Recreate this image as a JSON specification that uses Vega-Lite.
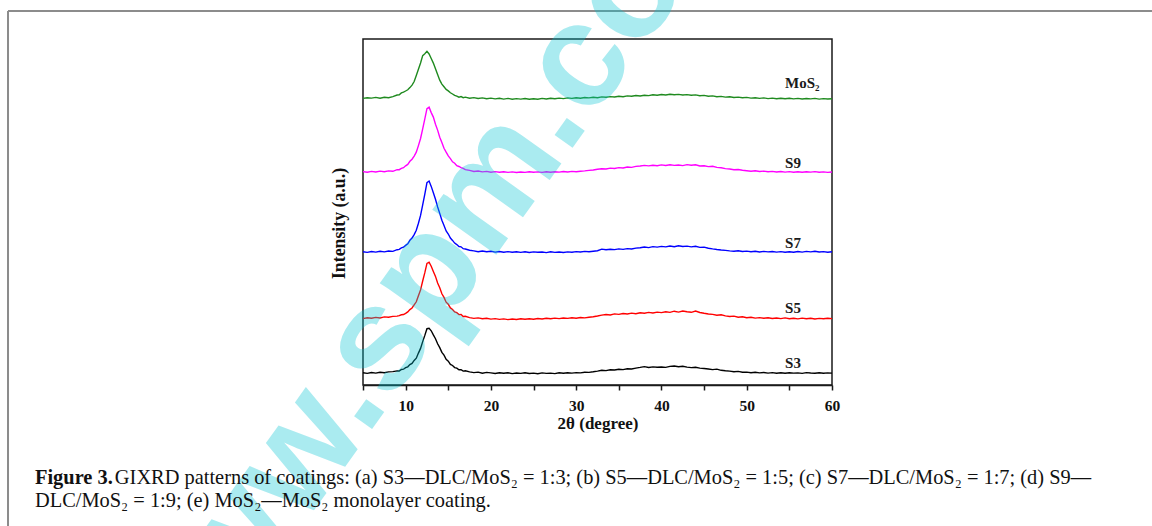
{
  "$schema": "https://vega.github.io/schema/vega-lite/v6.json",
  "width": 469,
  "height": 346,
  "autosize": {"type": "none"},
  "padding": {"left": 363, "top": 39, "right": 320, "bottom": 141},
  "background": "white",
  "title": {
    "text": "Figure 3.",
    "subtitle": ["\u200b\u00a0\u00a0\u00a0\u00a0\u00a0\u00a0\u00a0\u00a0\u00a0\u00a0\u00a0\u00a0\u00a0\u00a0\u00a0\u200a\u200aGIXRD patterns of coatings: (a) S3—DLC/MoS₂ = 1:3; (b) S5—DLC/MoS₂ = 1:5; (c) S7—DLC/MoS₂ = 1:7; (d) S9—", "DLC/MoS₂ = 1:9; (e) MoS₂—MoS₂ monolayer coating."],
    "orient": "bottom",
    "anchor": "start",
    "frame": "group",
    "dx": -328,
    "offset": -263,
    "baseline": "top",
    "font": "Liberation Serif",
    "fontSize": 20.4,
    "fontWeight": "bold",
    "color": "#111111",
    "subtitleFont": "Liberation Serif",
    "subtitleFontSize": 20.4,
    "subtitleFontWeight": "normal",
    "subtitleColor": "#111111",
    "subtitlePadding": -20.4,
    "subtitleLineHeight": 23
  },
  "config": {
    "view": {"stroke": "#1a1a1a", "strokeWidth": 1.5},
    "axis": {"grid": false}
  },
  "datasets": {
    "labels": [
      {"label": "MoS₂", "x": 54.5, "y": 296.7},
      {"label": "S9", "x": 54.5, "y": 216.7},
      {"label": "S7", "x": 54.5, "y": 136.7},
      {"label": "S5", "x": 54.5, "y": 71.7},
      {"label": "S3", "x": 54.5, "y": 16.7}
    ],
    "watermark": [
      {"t": "www.spm.com.cn"}
    ],
    "xrd": [
      {"s":"S3","x":5,"y":12.2},{"s":"S3","x":5.5,"y":11.6},{"s":"S3","x":6,"y":12.5},{"s":"S3","x":6.5,"y":11.9},{"s":"S3","x":7,"y":12.8},{"s":"S3","x":7.5,"y":12.3},{"s":"S3","x":8,"y":13.1},{"s":"S3","x":8.5,"y":13.4},
      {"s":"S3","x":9,"y":14.1},{"s":"S3","x":9.25,"y":14.0},{"s":"S3","x":9.5,"y":15.5},{"s":"S3","x":9.75,"y":15.8},{"s":"S3","x":10,"y":17.3},{"s":"S3","x":10.25,"y":18.2},{"s":"S3","x":10.5,"y":20.4},{"s":"S3","x":10.75,"y":21.6},{"s":"S3","x":11,"y":24.6},{"s":"S3","x":11.25,"y":26.8},{"s":"S3","x":11.5,"y":31.9},{"s":"S3","x":11.75,"y":36.6},{"s":"S3","x":12,"y":43.4},{"s":"S3","x":12.25,"y":49.6},{"s":"S3","x":12.5,"y":56.3},{"s":"S3","x":12.75,"y":56.7},{"s":"S3","x":13,"y":54.2},{"s":"S3","x":13.25,"y":50.1},{"s":"S3","x":13.5,"y":46.3},{"s":"S3","x":13.75,"y":41.2},{"s":"S3","x":14,"y":37.4},{"s":"S3","x":14.25,"y":32.6},{"s":"S3","x":14.5,"y":29.8},{"s":"S3","x":14.75,"y":25.7},{"s":"S3","x":15,"y":23.9},{"s":"S3","x":15.25,"y":20.6},{"s":"S3","x":15.5,"y":19.5},{"s":"S3","x":15.75,"y":17.4},{"s":"S3","x":16,"y":16.9},{"s":"S3","x":16.25,"y":15.2},{"s":"S3","x":16.5,"y":15.4},{"s":"S3","x":16.75,"y":13.9},{"s":"S3","x":17,"y":14.2},
      {"s":"S3","x":17.5,"y":13.1},{"s":"S3","x":18,"y":12.4},{"s":"S3","x":18.5,"y":12.9},{"s":"S3","x":19,"y":11.8},{"s":"S3","x":19.5,"y":12.6},{"s":"S3","x":20,"y":12.1},{"s":"S3","x":20.5,"y":11.5},{"s":"S3","x":21,"y":12.3},{"s":"S3","x":21.5,"y":11.7},{"s":"S3","x":22,"y":12.2},{"s":"S3","x":22.5,"y":11.4},{"s":"S3","x":23,"y":12.0},{"s":"S3","x":23.5,"y":11.6},{"s":"S3","x":24,"y":12.3},{"s":"S3","x":24.5,"y":11.5},{"s":"S3","x":25,"y":11.9},{"s":"S3","x":25.5,"y":11.3},{"s":"S3","x":26,"y":12.1},{"s":"S3","x":26.5,"y":11.6},{"s":"S3","x":27,"y":11.9},{"s":"S3","x":27.5,"y":11.4},{"s":"S3","x":28,"y":12.2},{"s":"S3","x":28.5,"y":11.8},{"s":"S3","x":29,"y":12.3},{"s":"S3","x":29.5,"y":11.9},{"s":"S3","x":30,"y":12.4},{"s":"S3","x":30.5,"y":12.1},{"s":"S3","x":31,"y":12.8},{"s":"S3","x":31.5,"y":12.6},{"s":"S3","x":32,"y":13.2},{"s":"S3","x":32.5,"y":13.9},{"s":"S3","x":33,"y":14.8},{"s":"S3","x":33.5,"y":14.4},{"s":"S3","x":34,"y":15.3},{"s":"S3","x":34.5,"y":15.0},{"s":"S3","x":35,"y":15.8},{"s":"S3","x":35.5,"y":15.4},{"s":"S3","x":36,"y":16.3},{"s":"S3","x":36.5,"y":16.0},{"s":"S3","x":37,"y":16.9},{"s":"S3","x":37.5,"y":17.6},{"s":"S3","x":38,"y":18.4},{"s":"S3","x":38.5,"y":17.5},{"s":"S3","x":39,"y":18.1},{"s":"S3","x":39.5,"y":17.7},{"s":"S3","x":40,"y":18.0},{"s":"S3","x":40.5,"y":17.6},{"s":"S3","x":41,"y":18.6},{"s":"S3","x":41.5,"y":19.0},{"s":"S3","x":42,"y":18.3},{"s":"S3","x":42.5,"y":18.7},{"s":"S3","x":43,"y":17.9},{"s":"S3","x":43.5,"y":17.4},{"s":"S3","x":44,"y":17.8},{"s":"S3","x":44.5,"y":16.9},{"s":"S3","x":45,"y":16.5},{"s":"S3","x":45.5,"y":16.0},{"s":"S3","x":46,"y":15.4},{"s":"S3","x":46.5,"y":15.9},{"s":"S3","x":47,"y":14.7},{"s":"S3","x":47.5,"y":14.2},{"s":"S3","x":48,"y":13.9},{"s":"S3","x":48.5,"y":13.2},{"s":"S3","x":49,"y":13.6},{"s":"S3","x":49.5,"y":12.8},{"s":"S3","x":50,"y":12.9},{"s":"S3","x":50.5,"y":12.3},{"s":"S3","x":51,"y":12.7},{"s":"S3","x":51.5,"y":12.1},{"s":"S3","x":52,"y":12.5},{"s":"S3","x":52.5,"y":11.9},{"s":"S3","x":53,"y":12.4},{"s":"S3","x":53.5,"y":11.8},{"s":"S3","x":54,"y":12.2},{"s":"S3","x":54.5,"y":11.7},{"s":"S3","x":55,"y":12.3},{"s":"S3","x":55.5,"y":11.9},{"s":"S3","x":56,"y":12.1},{"s":"S3","x":56.5,"y":11.6},{"s":"S3","x":57,"y":12.4},{"s":"S3","x":57.5,"y":12.0},{"s":"S3","x":58,"y":11.7},{"s":"S3","x":58.5,"y":12.3},{"s":"S3","x":59,"y":11.8},{"s":"S3","x":59.5,"y":12.1},{"s":"S3","x":60,"y":11.9},

      {"s":"S5","x":5,"y":66.4},{"s":"S5","x":5.5,"y":67.3},{"s":"S5","x":6,"y":66.8},{"s":"S5","x":6.5,"y":67.6},{"s":"S5","x":7,"y":67.0},{"s":"S5","x":7.5,"y":68.1},{"s":"S5","x":8,"y":67.7},{"s":"S5","x":8.5,"y":68.6},
      {"s":"S5","x":9,"y":68.9},{"s":"S5","x":9.25,"y":69.4},{"s":"S5","x":9.5,"y":70.2},{"s":"S5","x":9.75,"y":70.5},{"s":"S5","x":10,"y":71.6},{"s":"S5","x":10.25,"y":73.1},{"s":"S5","x":10.5,"y":75.4},{"s":"S5","x":10.75,"y":77.0},{"s":"S5","x":11,"y":80.1},{"s":"S5","x":11.25,"y":83.2},{"s":"S5","x":11.5,"y":89.3},{"s":"S5","x":11.75,"y":95.1},{"s":"S5","x":12,"y":104.0},{"s":"S5","x":12.25,"y":112.3},{"s":"S5","x":12.5,"y":121.6},{"s":"S5","x":12.75,"y":122.8},{"s":"S5","x":13,"y":118.7},{"s":"S5","x":13.25,"y":113.5},{"s":"S5","x":13.5,"y":108.6},{"s":"S5","x":13.75,"y":102.0},{"s":"S5","x":14,"y":97.3},{"s":"S5","x":14.25,"y":91.2},{"s":"S5","x":14.5,"y":87.6},{"s":"S5","x":14.75,"y":82.8},{"s":"S5","x":15,"y":80.7},{"s":"S5","x":15.25,"y":77.1},{"s":"S5","x":15.5,"y":75.5},{"s":"S5","x":15.75,"y":73.0},{"s":"S5","x":16,"y":72.3},{"s":"S5","x":16.25,"y":70.4},{"s":"S5","x":16.5,"y":70.6},{"s":"S5","x":16.75,"y":68.5},{"s":"S5","x":17,"y":68.7},
      {"s":"S5","x":17.5,"y":67.4},{"s":"S5","x":18,"y":66.6},{"s":"S5","x":18.5,"y":67.1},{"s":"S5","x":19,"y":66.2},{"s":"S5","x":19.5,"y":66.8},{"s":"S5","x":20,"y":65.9},{"s":"S5","x":20.5,"y":66.4},{"s":"S5","x":21,"y":65.6},{"s":"S5","x":21.5,"y":66.1},{"s":"S5","x":22,"y":65.4},{"s":"S5","x":22.5,"y":66.0},{"s":"S5","x":23,"y":65.5},{"s":"S5","x":23.5,"y":66.2},{"s":"S5","x":24,"y":65.7},{"s":"S5","x":24.5,"y":66.3},{"s":"S5","x":25,"y":65.8},{"s":"S5","x":25.5,"y":66.5},{"s":"S5","x":26,"y":66.0},{"s":"S5","x":26.5,"y":66.7},{"s":"S5","x":27,"y":66.2},{"s":"S5","x":27.5,"y":66.9},{"s":"S5","x":28,"y":66.4},{"s":"S5","x":28.5,"y":67.0},{"s":"S5","x":29,"y":66.6},{"s":"S5","x":29.5,"y":67.2},{"s":"S5","x":30,"y":66.8},{"s":"S5","x":30.5,"y":67.5},{"s":"S5","x":31,"y":67.1},{"s":"S5","x":31.5,"y":67.8},{"s":"S5","x":32,"y":68.2},{"s":"S5","x":32.5,"y":69.0},{"s":"S5","x":33,"y":69.9},{"s":"S5","x":33.5,"y":70.5},{"s":"S5","x":34,"y":70.0},{"s":"S5","x":34.5,"y":71.1},{"s":"S5","x":35,"y":70.6},{"s":"S5","x":35.5,"y":71.5},{"s":"S5","x":36,"y":71.0},{"s":"S5","x":36.5,"y":71.9},{"s":"S5","x":37,"y":71.3},{"s":"S5","x":37.5,"y":72.2},{"s":"S5","x":38,"y":71.8},{"s":"S5","x":38.5,"y":72.6},{"s":"S5","x":39,"y":72.0},{"s":"S5","x":39.5,"y":72.9},{"s":"S5","x":40,"y":72.4},{"s":"S5","x":40.5,"y":73.3},{"s":"S5","x":41,"y":72.6},{"s":"S5","x":41.5,"y":73.8},{"s":"S5","x":42,"y":72.9},{"s":"S5","x":42.5,"y":74.0},{"s":"S5","x":43,"y":73.2},{"s":"S5","x":43.5,"y":72.7},{"s":"S5","x":44,"y":73.9},{"s":"S5","x":44.5,"y":72.5},{"s":"S5","x":45,"y":71.7},{"s":"S5","x":45.5,"y":71.0},{"s":"S5","x":46,"y":70.6},{"s":"S5","x":46.5,"y":69.8},{"s":"S5","x":47,"y":70.2},{"s":"S5","x":47.5,"y":69.1},{"s":"S5","x":48,"y":68.5},{"s":"S5","x":48.5,"y":68.9},{"s":"S5","x":49,"y":67.8},{"s":"S5","x":49.5,"y":68.2},{"s":"S5","x":50,"y":67.3},{"s":"S5","x":50.5,"y":67.7},{"s":"S5","x":51,"y":66.9},{"s":"S5","x":51.5,"y":67.4},{"s":"S5","x":52,"y":66.7},{"s":"S5","x":52.5,"y":67.2},{"s":"S5","x":53,"y":66.5},{"s":"S5","x":53.5,"y":67.0},{"s":"S5","x":54,"y":66.4},{"s":"S5","x":54.5,"y":67.1},{"s":"S5","x":55,"y":66.3},{"s":"S5","x":55.5,"y":66.8},{"s":"S5","x":56,"y":66.1},{"s":"S5","x":56.5,"y":66.9},{"s":"S5","x":57,"y":66.3},{"s":"S5","x":57.5,"y":66.7},{"s":"S5","x":58,"y":66.0},{"s":"S5","x":58.5,"y":66.6},{"s":"S5","x":59,"y":66.2},{"s":"S5","x":59.5,"y":66.8},{"s":"S5","x":60,"y":66.4},

      {"s":"S7","x":5,"y":133.2},{"s":"S7","x":5.5,"y":132.6},{"s":"S7","x":6,"y":133.5},{"s":"S7","x":6.5,"y":132.9},{"s":"S7","x":7,"y":133.8},{"s":"S7","x":7.5,"y":133.1},{"s":"S7","x":8,"y":134.0},{"s":"S7","x":8.5,"y":133.6},
      {"s":"S7","x":9,"y":135.3},{"s":"S7","x":9.25,"y":135.6},{"s":"S7","x":9.5,"y":137.1},{"s":"S7","x":9.75,"y":137.8},{"s":"S7","x":10,"y":139.6},{"s":"S7","x":10.25,"y":141.2},{"s":"S7","x":10.5,"y":144.7},{"s":"S7","x":10.75,"y":146.9},{"s":"S7","x":11,"y":150.4},{"s":"S7","x":11.25,"y":154.8},{"s":"S7","x":11.5,"y":161.7},{"s":"S7","x":11.75,"y":169.6},{"s":"S7","x":12,"y":180.2},{"s":"S7","x":12.25,"y":190.9},{"s":"S7","x":12.5,"y":202.4},{"s":"S7","x":12.75,"y":204.0},{"s":"S7","x":13,"y":198.6},{"s":"S7","x":13.25,"y":192.3},{"s":"S7","x":13.5,"y":185.8},{"s":"S7","x":13.75,"y":178.1},{"s":"S7","x":14,"y":171.6},{"s":"S7","x":14.25,"y":164.8},{"s":"S7","x":14.5,"y":159.5},{"s":"S7","x":14.75,"y":154.1},{"s":"S7","x":15,"y":151.0},{"s":"S7","x":15.25,"y":146.9},{"s":"S7","x":15.5,"y":144.6},{"s":"S7","x":15.75,"y":141.9},{"s":"S7","x":16,"y":140.4},{"s":"S7","x":16.25,"y":138.5},{"s":"S7","x":16.5,"y":138.2},{"s":"S7","x":16.75,"y":136.3},{"s":"S7","x":17,"y":136.0},
      {"s":"S7","x":17.5,"y":134.8},{"s":"S7","x":18,"y":134.1},{"s":"S7","x":18.5,"y":133.3},{"s":"S7","x":19,"y":134.0},{"s":"S7","x":19.5,"y":133.2},{"s":"S7","x":20,"y":133.7},{"s":"S7","x":20.5,"y":132.9},{"s":"S7","x":21,"y":133.5},{"s":"S7","x":21.5,"y":132.7},{"s":"S7","x":22,"y":133.4},{"s":"S7","x":22.5,"y":132.8},{"s":"S7","x":23,"y":133.3},{"s":"S7","x":23.5,"y":132.6},{"s":"S7","x":24,"y":133.2},{"s":"S7","x":24.5,"y":132.5},{"s":"S7","x":25,"y":133.1},{"s":"S7","x":25.5,"y":132.7},{"s":"S7","x":26,"y":133.0},{"s":"S7","x":26.5,"y":132.4},{"s":"S7","x":27,"y":133.2},{"s":"S7","x":27.5,"y":132.6},{"s":"S7","x":28,"y":133.0},{"s":"S7","x":28.5,"y":132.5},{"s":"S7","x":29,"y":133.1},{"s":"S7","x":29.5,"y":132.8},{"s":"S7","x":30,"y":133.4},{"s":"S7","x":30.5,"y":133.0},{"s":"S7","x":31,"y":133.6},{"s":"S7","x":31.5,"y":133.2},{"s":"S7","x":32,"y":133.8},{"s":"S7","x":32.5,"y":134.3},{"s":"S7","x":33,"y":135.9},{"s":"S7","x":33.5,"y":135.2},{"s":"S7","x":34,"y":135.8},{"s":"S7","x":34.5,"y":135.4},{"s":"S7","x":35,"y":136.1},{"s":"S7","x":35.5,"y":135.6},{"s":"S7","x":36,"y":136.4},{"s":"S7","x":36.5,"y":136.0},{"s":"S7","x":37,"y":136.9},{"s":"S7","x":37.5,"y":137.3},{"s":"S7","x":38,"y":138.0},{"s":"S7","x":38.5,"y":137.4},{"s":"S7","x":39,"y":138.4},{"s":"S7","x":39.5,"y":137.9},{"s":"S7","x":40,"y":138.6},{"s":"S7","x":40.5,"y":138.1},{"s":"S7","x":41,"y":139.0},{"s":"S7","x":41.5,"y":138.3},{"s":"S7","x":42,"y":139.2},{"s":"S7","x":42.5,"y":138.5},{"s":"S7","x":43,"y":138.9},{"s":"S7","x":43.5,"y":138.1},{"s":"S7","x":44,"y":138.7},{"s":"S7","x":44.5,"y":137.6},{"s":"S7","x":45,"y":137.9},{"s":"S7","x":45.5,"y":136.8},{"s":"S7","x":46,"y":136.1},{"s":"S7","x":46.5,"y":135.5},{"s":"S7","x":47,"y":135.0},{"s":"S7","x":47.5,"y":134.6},{"s":"S7","x":48,"y":134.1},{"s":"S7","x":48.5,"y":133.8},{"s":"S7","x":49,"y":134.2},{"s":"S7","x":49.5,"y":133.5},{"s":"S7","x":50,"y":133.9},{"s":"S7","x":50.5,"y":133.2},{"s":"S7","x":51,"y":133.7},{"s":"S7","x":51.5,"y":133.0},{"s":"S7","x":52,"y":133.6},{"s":"S7","x":52.5,"y":133.1},{"s":"S7","x":53,"y":133.5},{"s":"S7","x":53.5,"y":132.9},{"s":"S7","x":54,"y":133.4},{"s":"S7","x":54.5,"y":132.8},{"s":"S7","x":55,"y":133.3},{"s":"S7","x":55.5,"y":132.7},{"s":"S7","x":56,"y":133.5},{"s":"S7","x":56.5,"y":132.9},{"s":"S7","x":57,"y":133.6},{"s":"S7","x":57.5,"y":133.1},{"s":"S7","x":58,"y":133.7},{"s":"S7","x":58.5,"y":133.0},{"s":"S7","x":59,"y":133.4},{"s":"S7","x":59.5,"y":132.8},{"s":"S7","x":60,"y":133.3},

      {"s":"S9","x":5,"y":213.4},{"s":"S9","x":5.5,"y":212.8},{"s":"S9","x":6,"y":213.6},{"s":"S9","x":6.5,"y":213.0},{"s":"S9","x":7,"y":213.9},{"s":"S9","x":7.5,"y":213.2},{"s":"S9","x":8,"y":214.1},{"s":"S9","x":8.5,"y":213.7},
      {"s":"S9","x":9,"y":215.4},{"s":"S9","x":9.25,"y":215.3},{"s":"S9","x":9.5,"y":216.6},{"s":"S9","x":9.75,"y":217.3},{"s":"S9","x":10,"y":219.2},{"s":"S9","x":10.25,"y":220.6},{"s":"S9","x":10.5,"y":223.7},{"s":"S9","x":10.75,"y":225.8},{"s":"S9","x":11,"y":228.9},{"s":"S9","x":11.25,"y":232.9},{"s":"S9","x":11.5,"y":239.4},{"s":"S9","x":11.75,"y":246.5},{"s":"S9","x":12,"y":256.2},{"s":"S9","x":12.25,"y":266.1},{"s":"S9","x":12.5,"y":276.3},{"s":"S9","x":12.75,"y":277.8},{"s":"S9","x":13,"y":272.4},{"s":"S9","x":13.25,"y":267.9},{"s":"S9","x":13.5,"y":260.8},{"s":"S9","x":13.75,"y":254.9},{"s":"S9","x":14,"y":247.8},{"s":"S9","x":14.25,"y":242.6},{"s":"S9","x":14.5,"y":236.7},{"s":"S9","x":14.75,"y":232.8},{"s":"S9","x":15,"y":229.1},{"s":"S9","x":15.25,"y":226.4},{"s":"S9","x":15.5,"y":223.2},{"s":"S9","x":15.75,"y":221.8},{"s":"S9","x":16,"y":219.3},{"s":"S9","x":16.25,"y":218.5},{"s":"S9","x":16.5,"y":217.4},{"s":"S9","x":16.75,"y":216.6},{"s":"S9","x":17,"y":215.4},
      {"s":"S9","x":17.5,"y":214.6},{"s":"S9","x":18,"y":213.5},{"s":"S9","x":18.5,"y":214.0},{"s":"S9","x":19,"y":213.1},{"s":"S9","x":19.5,"y":213.6},{"s":"S9","x":20,"y":212.8},{"s":"S9","x":20.5,"y":213.4},{"s":"S9","x":21,"y":212.7},{"s":"S9","x":21.5,"y":213.2},{"s":"S9","x":22,"y":212.6},{"s":"S9","x":22.5,"y":213.1},{"s":"S9","x":23,"y":212.5},{"s":"S9","x":23.5,"y":213.0},{"s":"S9","x":24,"y":212.6},{"s":"S9","x":24.5,"y":213.3},{"s":"S9","x":25,"y":212.8},{"s":"S9","x":25.5,"y":213.1},{"s":"S9","x":26,"y":212.6},{"s":"S9","x":26.5,"y":213.2},{"s":"S9","x":27,"y":212.7},{"s":"S9","x":27.5,"y":213.3},{"s":"S9","x":28,"y":212.9},{"s":"S9","x":28.5,"y":213.5},{"s":"S9","x":29,"y":213.0},{"s":"S9","x":29.5,"y":213.6},{"s":"S9","x":30,"y":213.2},{"s":"S9","x":30.5,"y":213.8},{"s":"S9","x":31,"y":214.1},{"s":"S9","x":31.5,"y":214.6},{"s":"S9","x":32,"y":215.0},{"s":"S9","x":32.5,"y":215.8},{"s":"S9","x":33,"y":216.3},{"s":"S9","x":33.5,"y":216.0},{"s":"S9","x":34,"y":216.9},{"s":"S9","x":34.5,"y":216.5},{"s":"S9","x":35,"y":217.4},{"s":"S9","x":35.5,"y":217.0},{"s":"S9","x":36,"y":218.0},{"s":"S9","x":36.5,"y":217.6},{"s":"S9","x":37,"y":218.6},{"s":"S9","x":37.5,"y":219.0},{"s":"S9","x":38,"y":219.6},{"s":"S9","x":38.5,"y":219.1},{"s":"S9","x":39,"y":219.8},{"s":"S9","x":39.5,"y":219.3},{"s":"S9","x":40,"y":220.1},{"s":"S9","x":40.5,"y":219.5},{"s":"S9","x":41,"y":220.3},{"s":"S9","x":41.5,"y":219.6},{"s":"S9","x":42,"y":220.0},{"s":"S9","x":42.5,"y":219.4},{"s":"S9","x":43,"y":220.4},{"s":"S9","x":43.5,"y":219.7},{"s":"S9","x":44,"y":220.2},{"s":"S9","x":44.5,"y":219.0},{"s":"S9","x":45,"y":219.3},{"s":"S9","x":45.5,"y":218.4},{"s":"S9","x":46,"y":218.7},{"s":"S9","x":46.5,"y":217.6},{"s":"S9","x":47,"y":217.2},{"s":"S9","x":47.5,"y":216.4},{"s":"S9","x":48,"y":216.0},{"s":"S9","x":48.5,"y":215.2},{"s":"S9","x":49,"y":215.5},{"s":"S9","x":49.5,"y":214.7},{"s":"S9","x":50,"y":214.3},{"s":"S9","x":50.5,"y":213.8},{"s":"S9","x":51,"y":214.2},{"s":"S9","x":51.5,"y":213.5},{"s":"S9","x":52,"y":213.9},{"s":"S9","x":52.5,"y":213.2},{"s":"S9","x":53,"y":213.6},{"s":"S9","x":53.5,"y":213.0},{"s":"S9","x":54,"y":213.5},{"s":"S9","x":54.5,"y":212.9},{"s":"S9","x":55,"y":213.4},{"s":"S9","x":55.5,"y":212.8},{"s":"S9","x":56,"y":213.3},{"s":"S9","x":56.5,"y":212.7},{"s":"S9","x":57,"y":213.2},{"s":"S9","x":57.5,"y":212.9},{"s":"S9","x":58,"y":213.4},{"s":"S9","x":58.5,"y":212.8},{"s":"S9","x":59,"y":213.1},{"s":"S9","x":59.5,"y":212.6},{"s":"S9","x":60,"y":213.0},

      {"s":"MoS2","x":5,"y":286.6},{"s":"MoS2","x":5.5,"y":287.3},{"s":"MoS2","x":6,"y":286.9},{"s":"MoS2","x":6.5,"y":287.6},{"s":"MoS2","x":7,"y":286.8},{"s":"MoS2","x":7.5,"y":287.7},{"s":"MoS2","x":8,"y":287.2},{"s":"MoS2","x":8.5,"y":288.3},
      {"s":"MoS2","x":9,"y":290.0},{"s":"MoS2","x":9.25,"y":290.2},{"s":"MoS2","x":9.5,"y":292.1},{"s":"MoS2","x":9.75,"y":292.8},{"s":"MoS2","x":10,"y":294.0},{"s":"MoS2","x":10.25,"y":295.2},{"s":"MoS2","x":10.5,"y":297.4},{"s":"MoS2","x":10.75,"y":299.9},{"s":"MoS2","x":11,"y":303.5},{"s":"MoS2","x":11.25,"y":309.6},{"s":"MoS2","x":11.5,"y":315.8},{"s":"MoS2","x":11.75,"y":322.0},{"s":"MoS2","x":12,"y":329.4},{"s":"MoS2","x":12.25,"y":331.2},{"s":"MoS2","x":12.5,"y":333.6},{"s":"MoS2","x":12.75,"y":331.0},{"s":"MoS2","x":13,"y":326.5},{"s":"MoS2","x":13.25,"y":321.9},{"s":"MoS2","x":13.5,"y":316.2},{"s":"MoS2","x":13.75,"y":310.5},{"s":"MoS2","x":14,"y":304.8},{"s":"MoS2","x":14.25,"y":300.9},{"s":"MoS2","x":14.5,"y":298.2},{"s":"MoS2","x":14.75,"y":295.6},{"s":"MoS2","x":15,"y":294.1},{"s":"MoS2","x":15.25,"y":292.2},{"s":"MoS2","x":15.5,"y":291.0},{"s":"MoS2","x":15.75,"y":289.6},{"s":"MoS2","x":16,"y":288.9},{"s":"MoS2","x":16.25,"y":287.8},{"s":"MoS2","x":16.5,"y":288.4},{"s":"MoS2","x":16.75,"y":287.3},{"s":"MoS2","x":17,"y":287.9},
      {"s":"MoS2","x":17.5,"y":286.8},{"s":"MoS2","x":18,"y":287.4},{"s":"MoS2","x":18.5,"y":286.5},{"s":"MoS2","x":19,"y":287.1},{"s":"MoS2","x":19.5,"y":286.3},{"s":"MoS2","x":20,"y":286.9},{"s":"MoS2","x":20.5,"y":286.1},{"s":"MoS2","x":21,"y":286.7},{"s":"MoS2","x":21.5,"y":285.9},{"s":"MoS2","x":22,"y":286.6},{"s":"MoS2","x":22.5,"y":285.8},{"s":"MoS2","x":23,"y":286.4},{"s":"MoS2","x":23.5,"y":285.9},{"s":"MoS2","x":24,"y":286.5},{"s":"MoS2","x":24.5,"y":285.7},{"s":"MoS2","x":25,"y":286.3},{"s":"MoS2","x":25.5,"y":285.8},{"s":"MoS2","x":26,"y":286.6},{"s":"MoS2","x":26.5,"y":286.0},{"s":"MoS2","x":27,"y":286.7},{"s":"MoS2","x":27.5,"y":286.2},{"s":"MoS2","x":28,"y":286.9},{"s":"MoS2","x":28.5,"y":286.4},{"s":"MoS2","x":29,"y":287.1},{"s":"MoS2","x":29.5,"y":286.6},{"s":"MoS2","x":30,"y":287.3},{"s":"MoS2","x":30.5,"y":286.8},{"s":"MoS2","x":31,"y":287.5},{"s":"MoS2","x":31.5,"y":287.1},{"s":"MoS2","x":32,"y":287.8},{"s":"MoS2","x":32.5,"y":287.3},{"s":"MoS2","x":33,"y":288.1},{"s":"MoS2","x":33.5,"y":287.7},{"s":"MoS2","x":34,"y":288.4},{"s":"MoS2","x":34.5,"y":288.0},{"s":"MoS2","x":35,"y":288.8},{"s":"MoS2","x":35.5,"y":288.3},{"s":"MoS2","x":36,"y":289.1},{"s":"MoS2","x":36.5,"y":288.7},{"s":"MoS2","x":37,"y":289.5},{"s":"MoS2","x":37.5,"y":289.0},{"s":"MoS2","x":38,"y":289.8},{"s":"MoS2","x":38.5,"y":289.4},{"s":"MoS2","x":39,"y":290.2},{"s":"MoS2","x":39.5,"y":289.7},{"s":"MoS2","x":40,"y":290.5},{"s":"MoS2","x":40.5,"y":290.0},{"s":"MoS2","x":41,"y":290.8},{"s":"MoS2","x":41.5,"y":290.2},{"s":"MoS2","x":42,"y":290.6},{"s":"MoS2","x":42.5,"y":290.0},{"s":"MoS2","x":43,"y":290.4},{"s":"MoS2","x":43.5,"y":289.7},{"s":"MoS2","x":44,"y":290.1},{"s":"MoS2","x":44.5,"y":289.3},{"s":"MoS2","x":45,"y":289.6},{"s":"MoS2","x":45.5,"y":288.8},{"s":"MoS2","x":46,"y":289.1},{"s":"MoS2","x":46.5,"y":288.3},{"s":"MoS2","x":47,"y":288.6},{"s":"MoS2","x":47.5,"y":287.9},{"s":"MoS2","x":48,"y":288.2},{"s":"MoS2","x":48.5,"y":287.5},{"s":"MoS2","x":49,"y":287.9},{"s":"MoS2","x":49.5,"y":287.2},{"s":"MoS2","x":50,"y":287.6},{"s":"MoS2","x":50.5,"y":286.9},{"s":"MoS2","x":51,"y":287.3},{"s":"MoS2","x":51.5,"y":286.6},{"s":"MoS2","x":52,"y":287.1},{"s":"MoS2","x":52.5,"y":286.4},{"s":"MoS2","x":53,"y":286.9},{"s":"MoS2","x":53.5,"y":286.3},{"s":"MoS2","x":54,"y":286.8},{"s":"MoS2","x":54.5,"y":286.2},{"s":"MoS2","x":55,"y":286.7},{"s":"MoS2","x":55.5,"y":286.1},{"s":"MoS2","x":56,"y":286.6},{"s":"MoS2","x":56.5,"y":286.0},{"s":"MoS2","x":57,"y":286.5},{"s":"MoS2","x":57.5,"y":286.1},{"s":"MoS2","x":58,"y":286.6},{"s":"MoS2","x":58.5,"y":285.9},{"s":"MoS2","x":59,"y":286.4},{"s":"MoS2","x":59.5,"y":286.0},{"s":"MoS2","x":60,"y":286.3}
    ]
  },
  "layer": [
    {
      "data": {"values": [{}]},
      "mark": {"type": "rule", "color": "#8c8c8c", "strokeWidth": 2},
      "encoding": {
        "x": {"datum": -36.63, "type": "quantitative"},
        "x2": {"datum": 97.53},
        "y": {"datum": 374, "type": "quantitative"}
      }
    },
    {
      "data": {"values": [{}]},
      "mark": {"type": "rule", "color": "#8c8c8c", "strokeWidth": 2},
      "encoding": {
        "x": {"datum": -36.63, "type": "quantitative"},
        "y": {"datum": 374, "type": "quantitative"},
        "y2": {"datum": -141}
      }
    },
    {
      "data": {"name": "xrd"},
      "mark": {"type": "line", "strokeWidth": 1.4},
      "encoding": {
        "x": {
          "field": "x", "type": "quantitative",
          "scale": {"domain": [5, 60], "nice": false, "zero": false},
          "axis": {
            "title": "2θ (degree)",
            "values": [5, 10, 15, 20, 25, 30, 35, 40, 45, 50, 55, 60],
            "labelExpr": "datum.value % 10 === 0 ? datum.label : ''",
            "labelFlush": false,
            "labelOverlap": false,
            "tickSize": 5, "tickWidth": 1.5, "tickColor": "#1a1a1a",
            "domainColor": "#1a1a1a", "domainWidth": 1.5,
            "labelFont": "Liberation Serif", "labelFontWeight": "bold", "labelFontSize": 15.5, "labelColor": "#111111", "labelPadding": 8.9,
            "titleFont": "Liberation Serif", "titleFontWeight": "bold", "titleFontSize": 17, "titleColor": "#111111", "titlePadding": 1.5
          }
        },
        "y": {
          "field": "y", "type": "quantitative",
          "scale": {"domain": [0, 346], "nice": false, "zero": false},
          "axis": {
            "title": "Intensity (a.u.)",
            "labels": false, "ticks": false, "domain": false,
            "titleFont": "Liberation Serif", "titleFontWeight": "bold", "titleFontSize": 17.8, "titleColor": "#111111",
            "titlePadding": 15, "titleY": 184
          }
        },
        "color": {
          "field": "s", "type": "nominal",
          "scale": {"domain": ["S3", "S5", "S7", "S9", "MoS2"], "range": ["#000000", "#ff0000", "#0000ff", "#ff00ff", "#1f8a1f"]},
          "legend": null
        }
      }
    },
    {
      "data": {"name": "labels"},
      "mark": {"type": "text", "align": "left", "baseline": "alphabetic", "font": "Liberation Serif", "fontWeight": "bold", "fontSize": 15, "color": "#1a1a1a"},
      "encoding": {
        "x": {"field": "x", "type": "quantitative"},
        "y": {"field": "y", "type": "quantitative"},
        "text": {"field": "label"}
      }
    },
    {
      "data": {"name": "watermark"},
      "mark": {"type": "text", "align": "center", "baseline": "alphabetic", "angle": -54.5, "font": "Liberation Sans", "fontWeight": "bold", "fontSize": 148, "color": "#00c3d2", "opacity": 0.33},
      "encoding": {
        "x": {"datum": 24.6, "type": "quantitative"},
        "y": {"datum": 177.7, "type": "quantitative"},
        "text": {"field": "t"}
      }
    }
  ]
}
